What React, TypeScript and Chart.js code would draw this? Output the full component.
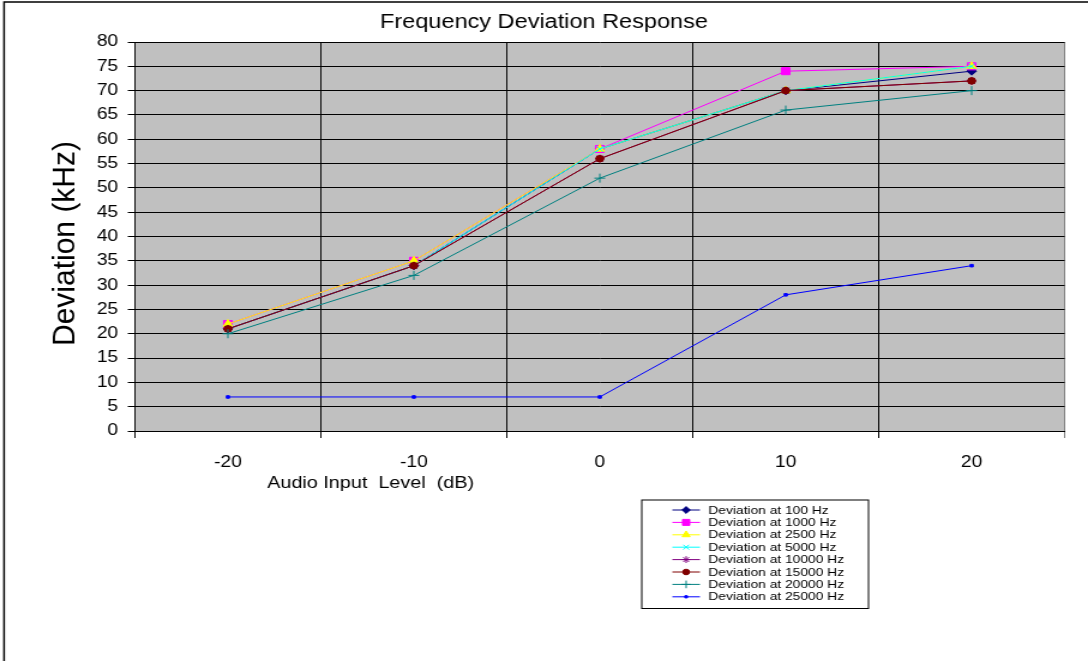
import React, { useEffect, useRef } from "react";
import { Chart, registerables } from "chart.js";
import { drawPoint } from "chart.js/helpers";

Chart.register(...registerables);

// ---- data ----
const categories = ["-20", "-10", "0", "10", "20"];
const seriesNames = [
  "Deviation at 100 Hz",
  "Deviation at 1000 Hz",
  "Deviation at 2500 Hz",
  "Deviation at 5000 Hz",
  "Deviation at 10000 Hz",
  "Deviation at 15000 Hz",
  "Deviation at 20000 Hz",
  "Deviation at 25000 Hz",
];
const dev100Hz = [21, 34, 58, 70, 74];
const dev1000Hz = [22, 35, 58, 74, 75];
const dev2500Hz = [22, 35, 58, 70, 75];
const dev5000Hz = [21, 34, 58, 70, 75];
const dev10000Hz = [21, 34, 56, 70, 72];
const dev15000Hz = [21, 34, 56, 70, 72];
const dev20000Hz = [20, 32, 52, 66, 70];
const dev25000Hz = [7, 7, 7, 28, 34];
const seriesValues = [dev100Hz, dev1000Hz, dev2500Hz, dev5000Hz, dev10000Hz, dev15000Hz, dev20000Hz, dev25000Hz];

const seriesColors = ["#000080", "#FF00FF", "#FFFF00", "#00FFFF", "#800080", "#800000", "#008080", "#0000FF"];
const seriesMarkers = ["rectRot", "rect", "triangle", "crossRot", "star", "circle", "cross", "rect"];
const markerSizes = [4, 5, 4.5, 4, 4, 3.3, 4.5, 1.8];

const yMin = 0;
const yMax = 80;
const yStep = 5;

const chartTitle = "Frequency Deviation Response";
const yTitle = "Deviation (kHz)";
const xTitle = "Audio Input  Level  (dB)";

// ---- layout ----
const SX = 1.2; // horizontal stretch of the original picture
const CW = 1088;
const CH = 661;
const LW = Math.round(CW / SX);
const FONT = "'Liberation Sans', Arial, 'DejaVu Sans', sans-serif";

const decorPlugin = {
  id: "decor",
  beforeDraw(chart: any) {
    const { ctx, chartArea } = chart;
    ctx.save();
    ctx.fillStyle = "#ffffff";
    ctx.fillRect(0, 0, chart.width, chart.height);
    ctx.fillStyle = "#C0C0C0";
    ctx.fillRect(chartArea.left, chartArea.top, chartArea.right - chartArea.left, chartArea.bottom - chartArea.top);
    ctx.restore();
  },
  afterDraw(chart: any) {
    const { ctx, chartArea } = chart;
    const w = chartArea.right - chartArea.left;
    const h = chartArea.bottom - chartArea.top;
    ctx.save();
    // outer frame (top and left edges visible)
    ctx.strokeStyle = "#000000";
    ctx.lineWidth = 1.5;
    ctx.beginPath();
    ctx.moveTo(3.4, chart.height);
    ctx.lineTo(3.4, 2);
    ctx.lineTo(chart.width, 2);
    ctx.stroke();

    ctx.fillStyle = "#000000";
    // chart title
    ctx.font = `19.6px ${FONT}`;
    ctx.textAlign = "center";
    ctx.textBaseline = "middle";
    ctx.fillText(chartTitle, chart.width / 2, 22.5);

    // y-axis title (drawn without the horizontal stretch, since it is rotated)
    ctx.save();
    ctx.translate(chartArea.left - 57.5, chartArea.top + h * 0.518);
    ctx.scale(1 / SX, 1);
    ctx.rotate(-Math.PI / 2);
    ctx.font = `30px ${FONT}`;
    ctx.textAlign = "center";
    ctx.textBaseline = "middle";
    ctx.fillText(yTitle, 0, 0);
    ctx.restore();

    // x-axis title
    ctx.font = `16.5px ${FONT}`;
    ctx.textAlign = "center";
    ctx.textBaseline = "middle";
    ctx.fillText(xTitle, chartArea.left + w * 0.2535, chartArea.bottom + 52.5);

    // legend box
    const bx = chartArea.left + 422;
    const by = chartArea.bottom + 68.5;
    const bw = 189;
    const bh = 108.5;
    ctx.fillStyle = "#ffffff";
    ctx.fillRect(bx, by, bw, bh);
    ctx.strokeStyle = "#000000";
    ctx.lineWidth = 1;
    ctx.strokeRect(bx + 0.5, by + 0.5, bw, bh);
    ctx.font = `11.5px ${FONT}`;
    ctx.textAlign = "left";
    ctx.textBaseline = "middle";
    chart.data.datasets.forEach((ds: any, i: number) => {
      const y = by + 10.5 + i * 12.4;
      ctx.strokeStyle = ds.borderColor;
      ctx.lineWidth = 1;
      ctx.beginPath();
      ctx.moveTo(bx + 26, y);
      ctx.lineTo(bx + 49, y);
      ctx.stroke();
      ctx.fillStyle = ds.pointBackgroundColor;
      ctx.strokeStyle = ds.pointBorderColor;
      drawPoint(ctx, { pointStyle: ds.pointStyle, radius: ds.pointRadius * 0.85, rotation: 0, borderWidth: 1 }, bx + 37.5, y);
      ctx.fillStyle = "#000000";
      ctx.fillText(ds.label, bx + 56, y + 0.5);
    });
    ctx.restore();
  },
};

export default function App() {
  const ref = useRef<HTMLCanvasElement | null>(null);

  useEffect(() => {
    document.body.style.margin = "0";
    const canvas = ref.current;
    if (!canvas) return;
    const datasets = seriesValues.map((vals, i) => ({
      label: seriesNames[i],
      data: vals,
      borderColor: seriesColors[i],
      backgroundColor: seriesColors[i],
      pointBackgroundColor: seriesColors[i],
      pointBorderColor: seriesColors[i],
      pointStyle: seriesMarkers[i],
      pointRadius: markerSizes[i],
      pointBorderWidth: 1,
      borderWidth: 1,
      tension: 0,
      fill: false,
      order: seriesValues.length - i,
    }));

    const chart = new Chart(canvas, {
      type: "line",
      data: { labels: categories, datasets },
      plugins: [decorPlugin],
      options: {
        responsive: false,
        animation: false,
        devicePixelRatio: 1,
        layout: { padding: { left: 0, right: LW - 887.5, top: 42, bottom: 0 } },
        font: { family: FONT },
        plugins: {
          legend: { display: false },
          tooltip: { enabled: false },
          title: { display: false },
        },
        scales: {
          x: {
            type: "category",
            offset: true,
            grid: {
              offset: true,
              color: (c: any) => (c.type === "tick" ? "#000000" : "#808080"),
              lineWidth: 1,
              tickLength: 7,
              drawTicks: true,
            },
            border: { display: true, color: "#000000", width: 1 },
            ticks: {
              color: "#000000",
              font: { family: FONT, size: 16 },
              padding: 15,
              maxRotation: 0,
              autoSkip: false,
            },
            afterFit: (s: any) => {
              s.height = CH - 431;
            },
          },
          y: {
            min: yMin,
            max: yMax,
            grid: { color: "#000000", lineWidth: 1, tickLength: 6, drawTicks: true },
            border: { display: true, color: "#000000", width: 1 },
            ticks: {
              stepSize: yStep,
              color: "#000000",
              font: { family: FONT, size: 16 },
              padding: 8,
              autoSkip: false,
            },
            title: { display: false },
            afterFit: (s: any) => {
              s.width = 112.5;
            },
          },
        },
      } as any,
    });
    return () => chart.destroy();
  }, []);

  return (
    <div style={{ width: CW, height: CH, overflow: "hidden" }}>
      <canvas ref={ref} width={LW} height={CH} style={{ width: `${CW}px`, height: `${CH}px`, display: "block" }} />
    </div>
  );
}
